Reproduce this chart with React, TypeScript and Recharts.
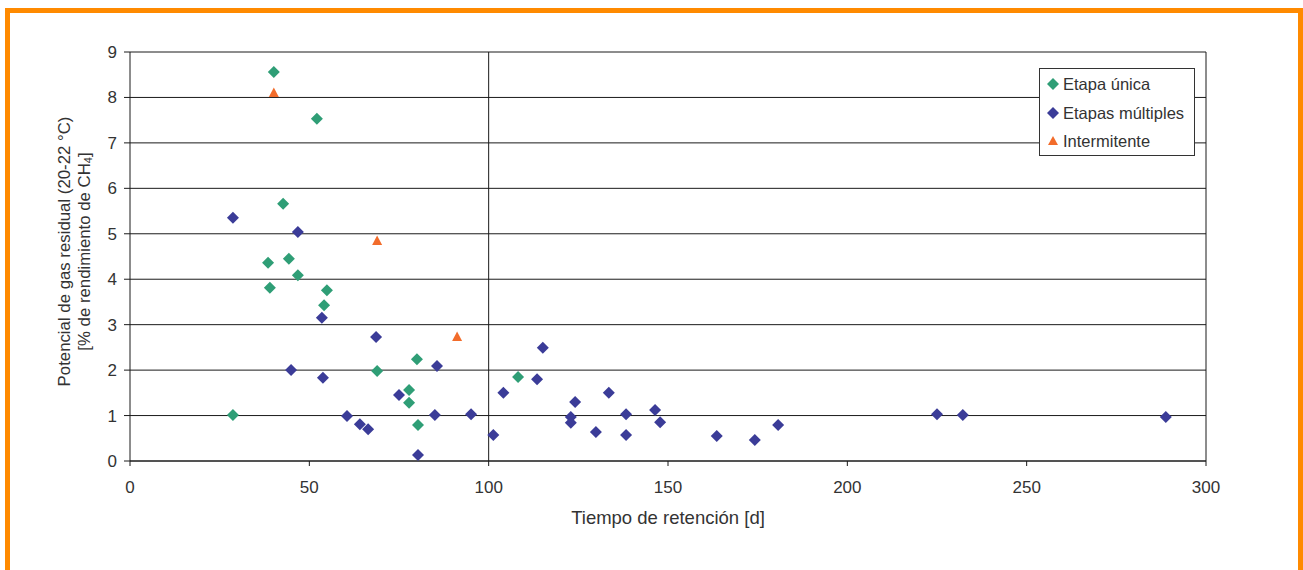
import React from 'react';
import { ScatterChart, Scatter, XAxis, YAxis, CartesianGrid, ReferenceLine, Legend, Label } from 'recharts';

// Tiempo de retención [d], potencial de gas residual [%]
const etapaUnica: [number, number][] = [
  [40.1, 8.56], [52.1, 7.53], [42.7, 5.66], [38.5, 4.36], [44.3, 4.45], [46.8, 4.09],
  [39.0, 3.81], [54.9, 3.76], [54.1, 3.43], [80.0, 2.24], [68.9, 1.98], [77.8, 1.56],
  [77.8, 1.28], [28.7, 1.01], [80.3, 0.79], [108.2, 1.85],
];
const etapasMultiples: [number, number][] = [
  [28.7, 5.35], [46.8, 5.04], [53.5, 3.15], [68.6, 2.73], [44.9, 2.0], [53.8, 1.83],
  [85.6, 2.09], [75.0, 1.45], [60.5, 0.99], [64.1, 0.81], [66.4, 0.70], [85.0, 1.01],
  [95.1, 1.03], [80.3, 0.13], [115.1, 2.49], [113.5, 1.80], [104.1, 1.50], [101.3, 0.57],
  [124.1, 1.30], [122.9, 0.97], [122.9, 0.84], [133.5, 1.50], [138.3, 1.03], [138.3, 0.57],
  [129.9, 0.64], [146.4, 1.12], [147.8, 0.85], [163.6, 0.55], [174.2, 0.46], [180.7, 0.79],
  [225.0, 1.03], [232.2, 1.01], [288.8, 0.97],
];
const intermitente: [number, number][] = [
  [40.1, 8.1], [68.9, 4.84], [91.2, 2.73],
];

const xTicks = [0, 50, 100, 150, 200, 250, 300];
const yTicks = [0, 1, 2, 3, 4, 5, 6, 7, 8, 9];

const seriesNames = ['Etapa única', 'Etapas múltiples', 'Intermitente'];
const seriesColors = ['#2f9e76', '#3b3c98', '#f26c2b'];

const toObj = (arr: [number, number][]) => arr.map(([x, y]) => ({ x, y }));

const FONT = '"Liberation Sans", Arial, sans-serif';
const TEXT = '#333333';
const LINE = '#1a1a1a';

const Diamond = (color: string) => (props: any) => {
  const { cx, cy } = props;
  const r = 6;
  return <polygon points={`${cx},${cy - r} ${cx + r},${cy} ${cx},${cy + r} ${cx - r},${cy}`} fill={color} />;
};
const Triangle = (color: string) => (props: any) => {
  const { cx, cy } = props;
  return <polygon points={`${cx},${cy - 5.5} ${cx + 5},${cy + 4} ${cx - 5},${cy + 4}`} fill={color} />;
};

const LegendIcon = ({ i }: { i: number }) => (
  <svg width={12} height={12} style={{ display: 'block' }}>
    {i === 2 ? (
      <polygon points="6,1 11,10 1,10" fill={seriesColors[i]} />
    ) : (
      <polygon points="6,0 12,6 6,12 0,6" fill={seriesColors[i]} />
    )}
  </svg>
);

const renderLegend = () => (
  <div
    style={{
      boxSizing: 'border-box',
      width: 156,
      height: 88,
      border: '1px solid #333',
      background: '#fff',
      padding: '1px 0 0 7px',
      fontFamily: FONT,
      fontSize: 16.5,
      color: TEXT,
    }}
  >
    {seriesNames.map((n, i) => (
      <div key={n} style={{ display: 'flex', alignItems: 'center', height: 28.5 }}>
        <LegendIcon i={i} />
        <span style={{ marginLeft: 4, lineHeight: '18px' }}>{n}</span>
      </div>
    ))}
  </div>
);

const XLabelContent = (props: any) => {
  const vb = props.viewBox || {};
  const cx = (vb.x ?? 130) + (vb.width ?? 1076) / 2;
  return (
    <text x={cx} y={524} textAnchor="middle" fontFamily={FONT} fontSize={18.5} fill={TEXT}>
      Tiempo de retención [d]
    </text>
  );
};

const YLabelContent = (props: any) => {
  const vb = props.viewBox || {};
  const cy = (vb.y ?? 52) + (vb.height ?? 409) / 2 - 5;
  return (
    <g fontFamily={FONT} fontSize={16.8} fill={TEXT}>
      <text x={64} y={cy} textAnchor="middle" dominantBaseline="central" transform={`rotate(-90 64 ${cy})`}>
        Potencial de gas residual (20-22 °C)
      </text>
      <text x={84} y={cy} textAnchor="middle" dominantBaseline="central" transform={`rotate(-90 84 ${cy})`}>
        [% de rendimiento de CH<tspan fontSize={11} dy={4}>4</tspan><tspan dy={-4}>]</tspan>
      </text>
    </g>
  );
};

export default function App() {
  return (
    <div style={{ position: 'absolute', left: 0, top: 0, width: 1303, height: 570, background: '#fff', overflow: 'hidden' }}>
      <div
        style={{
          position: 'absolute',
          left: 5,
          top: 8,
          width: 1298,
          height: 620,
          boxSizing: 'border-box',
          border: '5px solid #ff8a00',
        }}
      />
      <div style={{ position: 'absolute', left: 0, top: 0 }}>
        <ScatterChart width={1303} height={570} margin={{ top: 52, right: 97, left: 0, bottom: 49 }}>
          <CartesianGrid horizontal vertical={false} stroke={LINE} strokeWidth={1} />
          <XAxis
            type="number"
            dataKey="x"
            domain={[0, 300]}
            ticks={xTicks}
            interval={0}
            height={60}
            axisLine={{ stroke: LINE }}
            tickLine={{ stroke: LINE }}
            tickSize={5}
            tickMargin={15}
            tick={{ fill: TEXT, fontSize: 17, fontFamily: FONT }}
            allowDataOverflow
          >
            <Label content={XLabelContent} />
          </XAxis>
          <YAxis
            type="number"
            dataKey="y"
            domain={[0, 9]}
            ticks={yTicks}
            interval={0}
            width={130}
            axisLine={{ stroke: LINE }}
            tickLine={{ stroke: LINE }}
            tickSize={6}
            tickMargin={7}
            tick={{ fill: TEXT, fontSize: 17, fontFamily: FONT }}
          >
            <Label content={YLabelContent} />
          </YAxis>
          <ReferenceLine x={100} stroke={LINE} />
          <ReferenceLine x={300} stroke={LINE} />
          <Scatter name={seriesNames[0]} data={toObj(etapaUnica)} fill={seriesColors[0]} shape={Diamond(seriesColors[0])} isAnimationActive={false} />
          <Scatter name={seriesNames[1]} data={toObj(etapasMultiples)} fill={seriesColors[1]} shape={Diamond(seriesColors[1])} isAnimationActive={false} />
          <Scatter name={seriesNames[2]} data={toObj(intermitente)} fill={seriesColors[2]} shape={Triangle(seriesColors[2])} isAnimationActive={false} />
          <Legend
            layout="vertical"
            align="center"
            verticalAlign="middle"
            content={renderLegend}
            wrapperStyle={{ left: 1039, top: 68, width: 156, height: 88 }}
          />
        </ScatterChart>
      </div>
    </div>
  );
}
